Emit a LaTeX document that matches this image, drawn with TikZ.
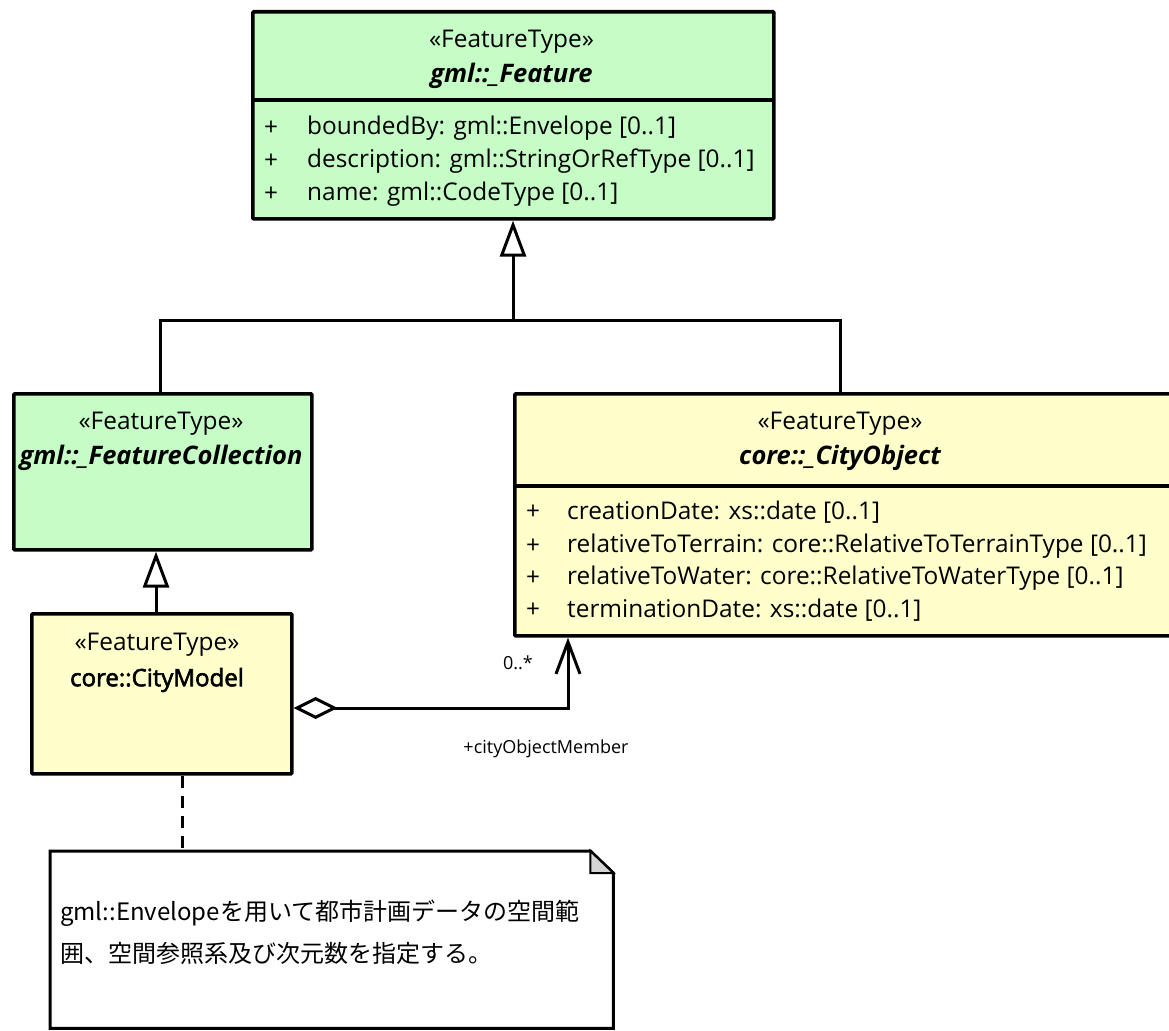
\documentclass[tikz,border=0pt]{standalone}
\usepackage{fontspec}
\setmainfont{Open Sans}
\newfontfamily\semibfont[FakeBold=2.5]{Open Sans}
\newfontfamily\jpfont{Noto Sans CJK JP}
\usetikzlibrary{arrows.meta}
\definecolor{umlgreen}{RGB}{198,253,198}
\definecolor{umlyellow}{RGB}{255,255,204}
\definecolor{foldgray}{RGB}{212,212,212}
\begin{document}
\begin{tikzpicture}[x=1pt,y=-1pt,
  box/.style={draw, line width=3.6pt, rounded corners=1pt, anchor=north west, inner sep=0pt},
  gbox/.style={box, fill=umlgreen},
  ybox/.style={box, fill=umlyellow},
  lbl/.style={font=\fontsize{24.4}{28}\selectfont, inner sep=0pt},
  attr/.style={lbl, anchor=west},
  absname/.style={font=\fontsize{25.5}{28}\selectfont\bfseries\itshape, inner sep=0pt},
  clsname/.style={font=\semibfont\fontsize{24}{28}\selectfont, inner sep=0pt},
  small/.style={font=\fontsize{18}{20}\selectfont, inner sep=0pt},
  conn/.style={line width=3pt},
  gen/.style={conn, -{Triangle[open, length=36pt, width=26pt, fill=white]}},
  agg/.style={conn, {Diamond[open, length=44pt, width=22pt, fill=white]}-{Straight Barb[length=32pt, width=24pt]}},
  notelink/.style={line width=3pt, dash pattern=on 12pt off 8pt},
  jp/.style={font=\jpfont\fontsize{24}{28}\selectfont, inner sep=0pt, anchor=west}
 ]
\clip (0,0) rectangle (1169,1030);
\fill[white] (0,0) rectangle (1169,1030);

% ---- gml::_Feature
\node[gbox, minimum width=521pt, minimum height=207pt] (feature) at (251,10) {};
\draw[line width=3.6pt] (251,100) -- (772,100);
\node[lbl] (featureSt) at (511.5,42) {«FeatureType»};
\node[absname] (featureNm) at (511.5,76) {gml::\_Feature};
\node[attr] (fp1) at (264,128) {+};
\node[attr] (fa1) at (307,128) {boundedBy: gml::Envelope [0..1]};
\node[attr] (fp2) at (264,161) {+};
\node[attr] (fa2) at (307,161) {description: gml::StringOrRefType [0..1]};
\node[attr] (fp3) at (264,194) {+};
\node[attr] (fa3) at (307,194) {name: gml::CodeType [0..1]};

% ---- gml::_FeatureCollection
\node[gbox, minimum width=298pt, minimum height=156pt] (fc) at (12,392) {};
\node[lbl] (fcSt) at (161,424) {«FeatureType»};
\node[absname] (fcNm) at (161,458) {gml::\_FeatureCollection};

% ---- core::_CityObject
\node[ybox, minimum width=667pt, minimum height=242pt] (co) at (513,392) {};
\draw[line width=3.6pt] (513,486) -- (1180,486);
\node[lbl] (coSt) at (840,424) {«FeatureType»};
\node[absname] (coNm) at (840,458) {core::\_CityObject};
\node[attr] (cp1) at (526,512) {+};
\node[attr] (ca1) at (567,512) {creationDate: xs::date [0..1]};
\node[attr] (cp2) at (526,546) {+};
\node[attr] (ca2) at (567,546) {relativeToTerrain: core::RelativeToTerrainType [0..1]};
\node[attr] (cp3) at (526,578) {+};
\node[attr] (ca3) at (567,578) {relativeToWater: core::RelativeToWaterType [0..1]};
\node[attr] (cp4) at (526,610) {+};
\node[attr] (ca4) at (567,610) {terminationDate: xs::date [0..1]};

% ---- core::CityModel
\node[ybox, minimum width=260pt, minimum height=160pt] (cm) at (30,612) {};
\node[lbl] (cmSt) at (157,645) {«FeatureType»};
\node[clsname] (cmNm) at (157,680) {core::CityModel};

% ---- note
\node[anchor=north west, minimum width=563pt, minimum height=177pt, inner sep=0pt, fill=white] (note) at (50,851) {};
\draw[line width=3pt, line join=miter]
  (note.north west) -- ([xshift=-23pt]note.north east) -- ([yshift=-22pt]note.north east)
  -- (note.south east) -- (note.south west) -- cycle;
\filldraw[fill=foldgray, line width=2pt, line join=miter]
  ([xshift=-23pt]note.north east) -- ([xshift=-23pt,yshift=-22pt]note.north east)
  -- ([yshift=-22pt]note.north east) -- cycle;
\node[jp] (nt1) at (60,913) {gml::Envelopeを用いて都市計画データの空間範};
\node[jp] (nt2) at (60,953) {囲、空間参照系及び次元数を指定する。};

% ---- connectors
\coordinate (barM) at (513,320);
\coordinate (barL) at (160,320);
\coordinate (barR) at (840,320);
\draw[conn] (fc.north -| barL) -- (barL) -- (barR) -- (co.north -| barR);
\draw[gen] (barM) -- (feature.south -| barM);

\coordinate (genX) at (156,600);
\draw[gen] (cm.north -| genX) -- (fc.south -| genX);

\coordinate (aggC) at (568,708);
\draw[agg] (cm.east |- aggC) -- (aggC) -- (co.south -| aggC);
\node[small] (mult) at (518,663) {0..*};
\node[small] (role) at (546,749) {+cityObjectMember};

\coordinate (noteX) at (182,800);
\draw[notelink] (cm.south -| noteX) -- (note.north -| noteX);
\end{tikzpicture}
\end{document}
